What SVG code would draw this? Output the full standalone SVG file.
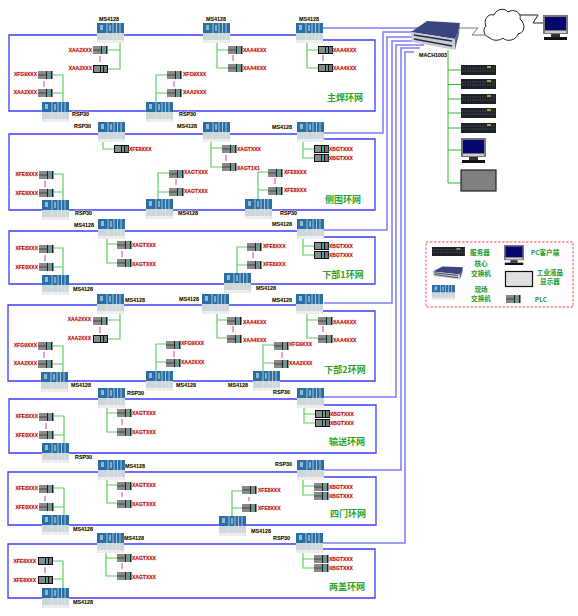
<svg xmlns="http://www.w3.org/2000/svg" width="578" height="616" viewBox="0 0 578 616">
<style>
text{font-family:"Liberation Sans","Noto Sans CJK SC",sans-serif;font-weight:bold}
.sl{font-size:5.4px;fill:#000;stroke:#fff0c8;stroke-width:.8px;paint-order:stroke}
.pl{font-size:5px;fill:#b00018;stroke:#fbdcc0;stroke-width:.8px;paint-order:stroke}
.e{text-anchor:end}
.c{text-anchor:middle}
.rn{font-size:9px;fill:#2aa52a;text-anchor:middle;font-family:"Noto Sans CJK SC","Liberation Sans",sans-serif}
.lg{font-size:6.6px;fill:#1f9a1f;text-anchor:middle;font-family:"Noto Sans CJK SC","Liberation Sans",sans-serif}
.ring{fill:none;stroke:#3c3cff;stroke-width:1.3}
.up{fill:none;stroke:#7c7cff;stroke-width:1.5}
.g{fill:none;stroke:#5fcf5f;stroke-width:1.2}
.gd{fill:none;stroke:#33b833;stroke-width:1}
.pk{fill:none;stroke:#e0609a;stroke-width:1.2}
.wan{fill:none;stroke-width:1;stroke:#222}
</style>
<defs>
<g id="sw">
<rect x="0" y="1" width="27" height="19" fill="#dfe5e8"/>
<rect x="0" y="0" width="27" height="10" fill="#2a6ea6"/>
<rect x="0" y="10" width="27" height="7" fill="#cdd6db"/>
<rect x="3" y="2" width="3" height="5" fill="#8fbbd4"/>
<rect x="12" y="2" width="2" height="6" fill="#7fadcc"/>
<path d="M10 0V18M16 0V18M19.500 0V18M23 0V18" stroke="#dfe8ee" stroke-width=".7" fill="none"/>
<rect x="1" y="17" width="25" height="3" fill="#eeeeee"/>
</g>
<g id="plc">
<rect width="15" height="8" fill="#8a8a8a"/>
<path d="M0 4H9" stroke="#333" stroke-width=".8"/>
<rect x="8" y="0" width="1" height="8" fill="#222"/>
<rect x="10" y="1" width="2" height="6" fill="#4aa6a0"/>
<rect x="13" y="0" width="1" height="8" fill="#222"/>
</g>
<g id="plk">
<rect width="15" height="8" fill="#111"/>
<rect x="1" y="1" width="6" height="6" fill="#8a8a8a"/>
<rect x="8" y="1" width="2" height="6" fill="#4aa6a0"/>
<rect x="11" y="1" width="3" height="6" fill="#777"/>
</g>
<g id="srv">
<rect width="35" height="10" fill="#1d2229"/>
<path d="M1 3H34M1 6H34" stroke="#5a6068" stroke-width=".8" stroke-dasharray="1.500 1"/>
<rect x="26" y="1" width="4" height="2" fill="#b09a40"/>
</g>
<g id="pc">
<rect width="25" height="19" fill="#777"/>
<rect x="2" y="2" width="21" height="13" fill="#06066e"/>
<rect x="2" y="16" width="21" height="2" fill="#ccc"/>
<path d="M8 19H17V22H8Z" fill="#333"/>
<rect x="1" y="22" width="23" height="3" fill="#111"/>
</g>
<g id="core">
<path d="M1 12L17 1L50 3L48 13L45 19Z" fill="#3a4580"/>
<path d="M1 12L45 19V30L2 22Z" fill="#c8ccd8"/>
<path d="M45 19L48 13L50 3L49 14L45 30Z" fill="#5a6088"/>
<path d="M4 15L42 21M4 19L42 26" stroke="#2a2a3a" stroke-width="1.500"/>
</g>
</defs>

<g id="connectors">
<path class="ring" d="M297 35H9V111H375V40H322"/>
<path class="ring" d="M323 139H375V210H9V134H297"/>
<path class="ring" d="M323 237H375V284H9V231H297"/>
<path class="ring" d="M322 311H375V381H8V305H296"/>
<path class="ring" d="M323 405H376V453H9V399H297"/>
<path class="ring" d="M323 477H376V525H8V472H297"/>
<path class="ring" d="M322 549H375V598H8V544H296"/>
<path class="up" d="M322 28H418"/>
<path class="up" d="M323 133H383V32H417"/>
<path class="up" d="M323 230H387V37H418"/>
<path class="up" d="M324 303H392V41H424"/>
<path class="up" d="M323 397H396V45H424"/>
<path class="up" d="M323 470H401V48H420"/>
<path class="up" d="M323 543H405V52H414"/>
<path class="wan" style="stroke:#777" d="M458 28H478L472 35H492"/>
<path class="wan" d="M518 15H538L533 23H545"/>
<path class="gd" d="M448 50V183M448 70H461M448 84.500H461M448 99H461M448 113H461M448 128H461M448 150H461M448 183H461"/>
<!-- ring 1 -->
<path class="g" d="M120 43V69H108M120 50H108"/>
<path class="g" d="M63 102V75H53M63 93H53"/>
<path class="g" d="M156 102V75H167M156 93H167"/>
<path class="g" d="M217 42V68H228M217 50H228"/>
<path class="g" d="M307 42V68H318M307 50H318"/>
<path class="pk" d="M100 56V62M44 81V87M174 81V87M233 55V61M323 55V61"/>
<!-- ring 2 -->
<path class="g" d="M103 140V149H114"/>
<path class="g" d="M63 201V174H53M63 192H53"/>
<path class="g" d="M158 199V173H169M158 192H169"/>
<path class="g" d="M211 140V167H222M211 148H222"/>
<path class="g" d="M303 140V158H314M303 149H314"/>
<path class="g" d="M258 199V172H268M258 190H268"/>
<path class="pk" d="M45 181V187M176 179V185M226 155V161M275 178V184"/>
<!-- ring 3 -->
<path class="g" d="M107 238V263H117M107 244H117"/>
<path class="g" d="M63 275V248H53M63 267H53"/>
<path class="g" d="M237 273V247H247M237 265H247"/>
<path class="g" d="M303 238V255H314M303 246H314"/>
<path class="pk" d="M122 251V257M45 255V261M253 252V258"/>
<!-- ring 4 -->
<path class="g" d="M120 313V339H108M120 320H108"/>
<path class="g" d="M63 372V346H53M63 364H53"/>
<path class="g" d="M156 371V344H166M156 362H166"/>
<path class="g" d="M263 371V345H274M263 363H274"/>
<path class="g" d="M217 313V338H227M217 320H227"/>
<path class="g" d="M307 313V338H318M307 320H318"/>
<path class="pk" d="M100 327V333M44 352V358M174 351V357M282 352V358M233 326V332M323 326V332"/>
<!-- ring 5 -->
<path class="g" d="M107 407V432H117M107 413H117"/>
<path class="g" d="M304 407V423H315M304 414H315"/>
<path class="g" d="M64 443V416H54M64 435H54"/>
<path class="pk" d="M122 419V425M46 423V429"/>
<!-- ring 6 -->
<path class="g" d="M107 479V503H117M107 485H117"/>
<path class="g" d="M303 479V495H314M303 486H314"/>
<path class="g" d="M64 515V488H54M64 507H54"/>
<path class="g" d="M232 516V491H242M232 508H242"/>
<path class="pk" d="M122 492V497M45 496V501M249 497V501"/>
<!-- ring 7 -->
<path class="g" d="M106 552V576H117M106 558H117"/>
<path class="g" d="M303 552V568H314M303 559H314"/>
<path class="g" d="M63 588V561H53M63 579H53"/>
<path class="pk" d="M122 563V569M45 567V573"/>
</g>

<g id="core-switch"><use href="#core" x="410" y="20"/><text class="sl c" x="433" y="57">MACH1003</text></g>
<g id="cloud"><path d="M490 38C484 36 482 30 486 26C483 20 488 13 494 15C497 8 505 8 508 12C514 8 522 13 520 19C526 24 525 33 518 34C516 41 506 42 503 38C499 41 493 41 490 38Z" fill="#fff" stroke="#222" stroke-width="1"/></g>
<g id="pc-remote"><use href="#pc" x="543" y="15"/></g>
<g id="server-1"><use href="#srv" x="461" y="65"/></g>
<g id="server-2"><use href="#srv" x="461" y="79"/></g>
<g id="server-3"><use href="#srv" x="461" y="94"/></g>
<g id="server-4"><use href="#srv" x="461" y="108"/></g>
<g id="server-5"><use href="#srv" x="461" y="123"/></g>
<g id="pc-client"><use href="#pc" x="461" y="138"/></g>
<g id="hmi"><rect x="461" y="170" width="35" height="21" fill="#808080" stroke="#222" stroke-width="1.200"/></g>

<g id="legend">
<rect x="426" y="242" width="147" height="65" fill="#fffdfd" stroke="#f05050" stroke-width="1" stroke-dasharray="2.500 1.500"/>
<use href="#srv" transform="translate(432 247) scale(.94 .9)"/>
<text class="lg" x="480" y="255">服务器</text>
<use href="#pc" transform="translate(504 245) scale(.8)"/>
<text class="lg" x="545" y="255">PC客户端</text>
<use href="#core" transform="translate(432 266) scale(.62 .45)"/>
<text class="lg" x="481" y="266">核心</text>
<text class="lg" x="481" y="276">交换机</text>
<rect x="505.500" y="271.500" width="27" height="15" fill="#e0e0e0" stroke="#111" stroke-width="1.200"/>
<text class="lg" x="550" y="275">工业液晶</text>
<text class="lg" x="550" y="284">显示器</text>
<use href="#sw" transform="translate(432 285) scale(.85 .75)"/>
<text class="lg" x="481" y="292">现场</text>
<text class="lg" x="481" y="301">交换机</text>
<use href="#plc" x="506" y="295"/>
<text class="lg" x="541" y="302">PLC</text>
</g>

<!-- switches -->
<g id="s1a"><use href="#sw" x="97" y="23"/><text class="sl" x="99" y="21">MS4128</text></g>
<g id="s1b"><use href="#sw" x="203" y="23"/><text class="sl" x="206" y="21">MS4128</text></g>
<g id="s1c"><use href="#sw" x="296" y="23"/><text class="sl" x="299" y="21">MS4128</text></g>
<g id="s1d"><use href="#sw" x="42" y="102"/><text class="sl" x="72" y="116">RSP30</text></g>
<g id="s1e"><use href="#sw" x="146" y="102"/><text class="sl" x="179" y="116">RSP30</text></g>

<g id="s2a"><use href="#sw" x="98" y="122"/><text class="sl" x="74" y="128">RSP30</text></g>
<g id="s2b"><use href="#sw" x="203" y="122"/><text class="sl" x="177" y="128">MS4128</text></g>
<g id="s2c"><use href="#sw" x="297" y="122"/><text class="sl" x="272" y="129">MS4128</text></g>
<g id="s2d"><use href="#sw" x="42" y="200"/><text class="sl" x="75" y="215">RSP30</text></g>
<g id="s2e"><use href="#sw" x="146" y="199"/><text class="sl" x="178" y="215">MS4128</text></g>
<g id="s2f"><use href="#sw" x="245" y="199"/><text class="sl" x="280" y="215">RSP30</text></g>

<g id="s3a"><use href="#sw" x="98" y="219"/><text class="sl" x="74" y="227">MS4128</text></g>
<g id="s3b"><use href="#sw" x="297" y="219"/><text class="sl" x="272" y="226">MS4128</text></g>
<g id="s3c"><use href="#sw" x="42" y="275"/><text class="sl" x="73" y="291">MS4128</text></g>
<g id="s3d"><use href="#sw" x="224" y="273"/><text class="sl" x="256" y="290">MS4128</text></g>

<g id="s4a"><use href="#sw" x="97" y="294"/><text class="sl" x="125" y="302">MS4128</text></g>
<g id="s4b"><use href="#sw" x="202" y="294"/><text class="sl" x="179" y="301">MS4128</text></g>
<g id="s4c"><use href="#sw" x="296" y="294"/><text class="sl" x="272" y="302">MS4128</text></g>
<g id="s4d"><use href="#sw" x="41" y="372"/><text class="sl" x="71" y="387">MS4128</text></g>
<g id="s4e"><use href="#sw" x="146" y="371"/><text class="sl" x="176" y="387">MS4128</text></g>
<g id="s4f"><use href="#sw" x="253" y="371"/><text class="sl" x="228" y="387">MS4128</text></g>

<g id="s5a"><use href="#sw" x="98" y="388"/><text class="sl" x="127" y="395">RSP30</text></g>
<g id="s5b"><use href="#sw" x="297" y="388"/><text class="sl" x="273" y="394">RSP30</text></g>
<g id="s5c"><use href="#sw" x="42" y="443"/><text class="sl" x="75" y="459">RSP30</text></g>

<g id="s6a"><use href="#sw" x="98" y="460"/><text class="sl" x="125" y="468">MS4128</text></g>
<g id="s6b"><use href="#sw" x="297" y="460"/><text class="sl" x="275" y="466">RSP30</text></g>
<g id="s6c"><use href="#sw" x="42" y="515"/><text class="sl" x="73" y="531">MS4128</text></g>
<g id="s6d"><use href="#sw" x="219" y="516"/><text class="sl" x="251" y="533">MS4128</text></g>

<g id="s7a"><use href="#sw" x="97" y="533"/><text class="sl" x="124" y="540">MS4128</text></g>
<g id="s7b"><use href="#sw" x="296" y="533"/><text class="sl" x="273" y="540">RSP30</text></g>
<g id="s7c"><use href="#sw" x="42" y="588"/><text class="sl" x="73" y="604">MS4128</text></g>

<!-- plcs ring 1 -->
<g id="p1a1"><use href="#plc" x="93" y="46"/><text class="pl e" x="92" y="52">XAA2XXX</text></g>
<g id="p1a2"><use href="#plk" x="93" y="65"/><text class="pl e" x="92" y="70">XAA2XXX</text></g>
<g id="p1d1"><use href="#plc" x="38" y="71"/><text class="pl e" x="37" y="76">XFG9XXX</text></g>
<g id="p1d2"><use href="#plc" x="38" y="89"/><text class="pl e" x="37" y="94">XAA2XXX</text></g>
<g id="p1e1"><use href="#plc" x="167" y="71"/><text class="pl" x="183" y="76">XFG9XXX</text></g>
<g id="p1e2"><use href="#plc" x="167" y="89"/><text class="pl" x="183" y="94">XAA2XXX</text></g>
<g id="p1b1"><use href="#plc" x="228" y="46"/><text class="pl" x="243" y="52">XAA4XXX</text></g>
<g id="p1b2"><use href="#plc" x="228" y="64"/><text class="pl" x="243" y="70">XAA4XXX</text></g>
<g id="p1c1"><use href="#plk" x="318" y="46"/><text class="pl" x="333" y="52">XAA4XXX</text></g>
<g id="p1c2"><use href="#plk" x="318" y="64"/><text class="pl" x="333" y="70">XAA4XXX</text></g>
<!-- ring 2 -->
<g id="p2a1"><use href="#plk" x="114" y="145"/><text class="pl" x="129" y="151">XFE8XXX</text></g>
<g id="p2d1"><use href="#plc" x="39" y="171"/><text class="pl e" x="38" y="176">XFE8XXX</text></g>
<g id="p2d2"><use href="#plc" x="39" y="189"/><text class="pl e" x="38" y="195">XFE8XXX</text></g>
<g id="p2e1"><use href="#plc" x="169" y="170"/><text class="pl" x="184" y="174">XAGTXXX</text></g>
<g id="p2e2"><use href="#plc" x="169" y="188"/><text class="pl" x="184" y="193">XAGTXXX</text></g>
<g id="p2b1"><use href="#plc" x="222" y="145"/><text class="pl" x="237" y="151">XAGTXXX</text></g>
<g id="p2b2"><use href="#plc" x="222" y="163"/><text class="pl" x="237" y="170">XAGT1X1</text></g>
<g id="p2c1"><use href="#plk" x="314" y="145"/><text class="pl" x="329" y="151">XBGTXXX</text></g>
<g id="p2c2"><use href="#plk" x="314" y="154"/><text class="pl" x="329" y="160">XBGTXXX</text></g>
<g id="p2f1"><use href="#plc" x="268" y="169"/><text class="pl" x="284" y="174">XFE8XXX</text></g>
<g id="p2f2"><use href="#plc" x="268" y="187"/><text class="pl" x="284" y="192">XFE8XXX</text></g>
<!-- ring 3 -->
<g id="p3a1"><use href="#plc" x="117" y="241"/><text class="pl" x="132" y="247">XAGTXXX</text></g>
<g id="p3a2"><use href="#plc" x="117" y="259"/><text class="pl" x="132" y="266">XAGTXXX</text></g>
<g id="p3c1"><use href="#plc" x="39" y="245"/><text class="pl e" x="38" y="250">XFE8XXX</text></g>
<g id="p3c2"><use href="#plc" x="39" y="263"/><text class="pl e" x="38" y="269">XFE8XXX</text></g>
<g id="p3d1"><use href="#plc" x="247" y="243"/><text class="pl" x="263" y="248">XFE8XXX</text></g>
<g id="p3d2"><use href="#plc" x="247" y="261"/><text class="pl" x="263" y="266">XFE8XXX</text></g>
<g id="p3b1"><use href="#plk" x="314" y="242"/><text class="pl" x="329" y="248">XBGTXXX</text></g>
<g id="p3b2"><use href="#plk" x="314" y="251"/><text class="pl" x="329" y="257">XBGTXXX</text></g>
<!-- ring 4 -->
<g id="p4a1"><use href="#plc" x="93" y="317"/><text class="pl e" x="91" y="321">XAA2XXX</text></g>
<g id="p4a2"><use href="#plk" x="93" y="335"/><text class="pl e" x="91" y="340">XAA2XXX</text></g>
<g id="p4d1"><use href="#plc" x="38" y="342"/><text class="pl e" x="37" y="347">XFG9XXX</text></g>
<g id="p4d2"><use href="#plc" x="38" y="360"/><text class="pl e" x="37" y="365">XAA2XXX</text></g>
<g id="p4e1"><use href="#plc" x="166" y="341"/><text class="pl" x="181" y="345">XFG9XXX</text></g>
<g id="p4e2"><use href="#plc" x="166" y="359"/><text class="pl" x="181" y="364">XAA2XXX</text></g>
<g id="p4f1"><use href="#plc" x="274" y="342"/><text class="pl" x="289" y="346">XFG9XXX</text></g>
<g id="p4f2"><use href="#plc" x="274" y="360"/><text class="pl" x="289" y="365">XAA2XXX</text></g>
<g id="p4b1"><use href="#plc" x="227" y="317"/><text class="pl" x="243" y="324">XAA4XXX</text></g>
<g id="p4b2"><use href="#plc" x="227" y="335"/><text class="pl" x="243" y="342">XAA4XXX</text></g>
<g id="p4c1"><use href="#plc" x="318" y="317"/><text class="pl" x="333" y="324">XAA4XXX</text></g>
<g id="p4c2"><use href="#plc" x="318" y="335"/><text class="pl" x="333" y="342">XAA4XXX</text></g>
<!-- ring 5 -->
<g id="p5a1"><use href="#plc" x="117" y="409"/><text class="pl" x="132" y="415">XAGTXXX</text></g>
<g id="p5a2"><use href="#plc" x="117" y="428"/><text class="pl" x="132" y="434">XAGTXXX</text></g>
<g id="p5b1"><use href="#plk" x="315" y="410"/><text class="pl" x="330" y="416">XBGTXXX</text></g>
<g id="p5b2"><use href="#plk" x="315" y="419"/><text class="pl" x="330" y="425">XBGTXXX</text></g>
<g id="p5c1"><use href="#plc" x="39" y="413"/><text class="pl e" x="38" y="418">XFE8XXX</text></g>
<g id="p5c2"><use href="#plc" x="39" y="431"/><text class="pl e" x="38" y="437">XFE8XXX</text></g>
<!-- ring 6 -->
<g id="p6a1"><use href="#plc" x="117" y="482"/><text class="pl" x="132" y="487">XAGTXXX</text></g>
<g id="p6a2"><use href="#plc" x="117" y="500"/><text class="pl" x="132" y="506">XAGTXXX</text></g>
<g id="p6b1"><use href="#plc" x="314" y="483"/><text class="pl" x="329" y="489">XBGTXXX</text></g>
<g id="p6b2"><use href="#plc" x="314" y="492"/><text class="pl" x="329" y="498">XBGTXXX</text></g>
<g id="p6c1"><use href="#plc" x="39" y="485"/><text class="pl e" x="38" y="490">XFE8XXX</text></g>
<g id="p6c2"><use href="#plc" x="39" y="503"/><text class="pl e" x="38" y="509">XFE8XXX</text></g>
<g id="p6d1"><use href="#plc" x="242" y="486"/><text class="pl" x="258" y="492">XFE8XXX</text></g>
<g id="p6d2"><use href="#plc" x="242" y="504"/><text class="pl" x="258" y="510">XFE8XXX</text></g>
<!-- ring 7 -->
<g id="p7a1"><use href="#plc" x="117" y="554"/><text class="pl" x="132" y="560">XAGTXXX</text></g>
<g id="p7a2"><use href="#plc" x="117" y="572"/><text class="pl" x="132" y="579">XAGTXXX</text></g>
<g id="p7b1"><use href="#plc" x="314" y="555"/><text class="pl" x="329" y="561">XBGTXXX</text></g>
<g id="p7b2"><use href="#plc" x="314" y="564"/><text class="pl" x="329" y="570">XBGTXXX</text></g>
<g id="p7c1"><use href="#plk" x="38" y="557"/><text class="pl e" x="36" y="563">XFE8XXX</text></g>
<g id="p7c2"><use href="#plk" x="38" y="576"/><text class="pl e" x="36" y="582">XFE8XXX</text></g>

<g id="ring-labels">
<text class="rn" x="345" y="101">主焊环网</text>
<text class="rn" x="343" y="203">侧围环网</text>
<text class="rn" x="343" y="278">下部1环网</text>
<text class="rn" x="345" y="373">下部2环网</text>
<text class="rn" x="347" y="445">输送环网</text>
<text class="rn" x="348" y="517">四门环网</text>
<text class="rn" x="347" y="590">两盖环网</text>
</g>
</svg>
